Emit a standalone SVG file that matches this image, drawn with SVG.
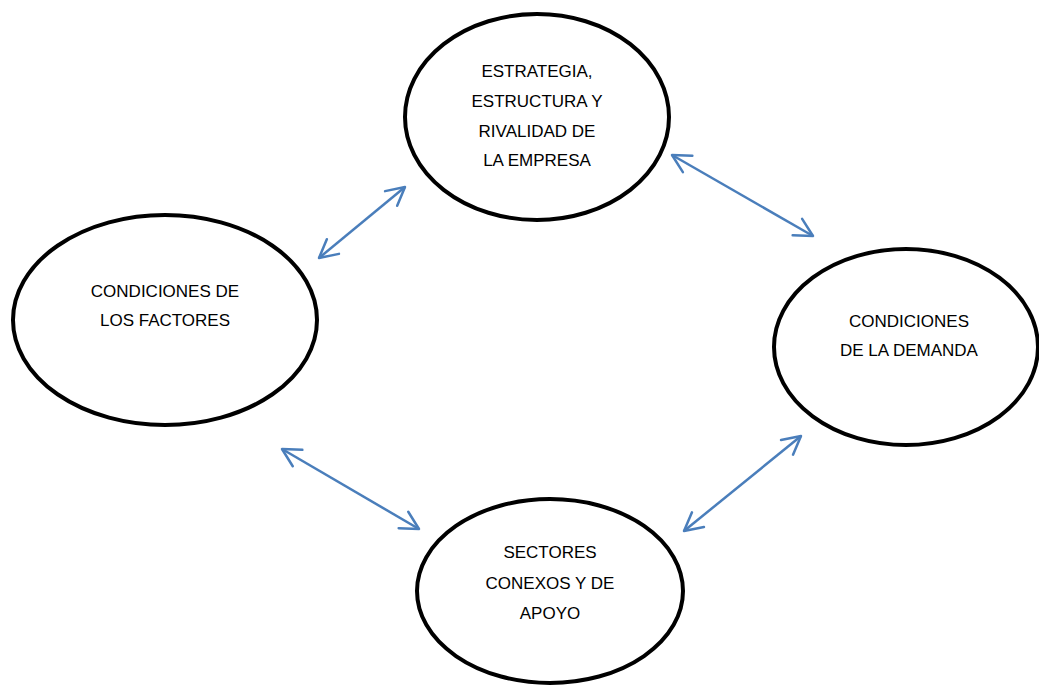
<svg xmlns="http://www.w3.org/2000/svg" width="1039" height="688" viewBox="0 0 1039 688">
  <style>
    .node ellipse { fill: #ffffff; stroke: #000000; stroke-width: 4; }
    .node text { font-family: "Liberation Sans", Arial, sans-serif; font-size: 17px; fill: #000000; text-anchor: middle; }
    .conn line { stroke: #4A7EBB; stroke-width: 2.5; fill: none; marker-start: url(#ah); marker-end: url(#ah); }
  </style>
  <defs>
    <marker id="ah" markerUnits="userSpaceOnUse" viewBox="-22 -12 24 24" refX="0" refY="0" markerWidth="24" markerHeight="24" orient="auto-start-reverse" overflow="visible">
      <path d="M -18 -9.5 L 0 0 L -18 9.5" fill="none" stroke="#4A7EBB" stroke-width="2.5" stroke-linecap="round" stroke-linejoin="round"/>
    </marker>
  </defs>
  <rect width="1039" height="688" fill="#ffffff"/>
  <g id="n-estrategia" class="node">
    <ellipse cx="537" cy="117" rx="132" ry="103"/>
    <text x="537" y="77">ESTRATEGIA,</text>
    <text x="537" y="107">ESTRUCTURA Y</text>
    <text x="537" y="137">RIVALIDAD DE</text>
    <text x="537" y="166">LA EMPRESA</text>
  </g>
  <g id="n-factores" class="node">
    <ellipse cx="165" cy="320" rx="152" ry="105"/>
    <text x="165" y="297">CONDICIONES DE</text>
    <text x="165" y="326">LOS FACTORES</text>
  </g>
  <g id="n-demanda" class="node">
    <ellipse cx="906" cy="347" rx="132" ry="98"/>
    <text x="909" y="327">CONDICIONES</text>
    <text x="909" y="356">DE LA DEMANDA</text>
  </g>
  <g id="n-sectores" class="node">
    <ellipse cx="550" cy="591" rx="133" ry="92"/>
    <text x="550" y="558">SECTORES</text>
    <text x="550" y="589">CONEXOS Y DE</text>
    <text x="550" y="619">APOYO</text>
  </g>
  <g id="connectors" class="conn">
    <line x1="319" y1="258" x2="405" y2="187"/>
    <line x1="672" y1="155" x2="813" y2="236"/>
    <line x1="282" y1="449" x2="419" y2="529"/>
    <line x1="684" y1="531" x2="801" y2="436"/>
  </g>
</svg>
